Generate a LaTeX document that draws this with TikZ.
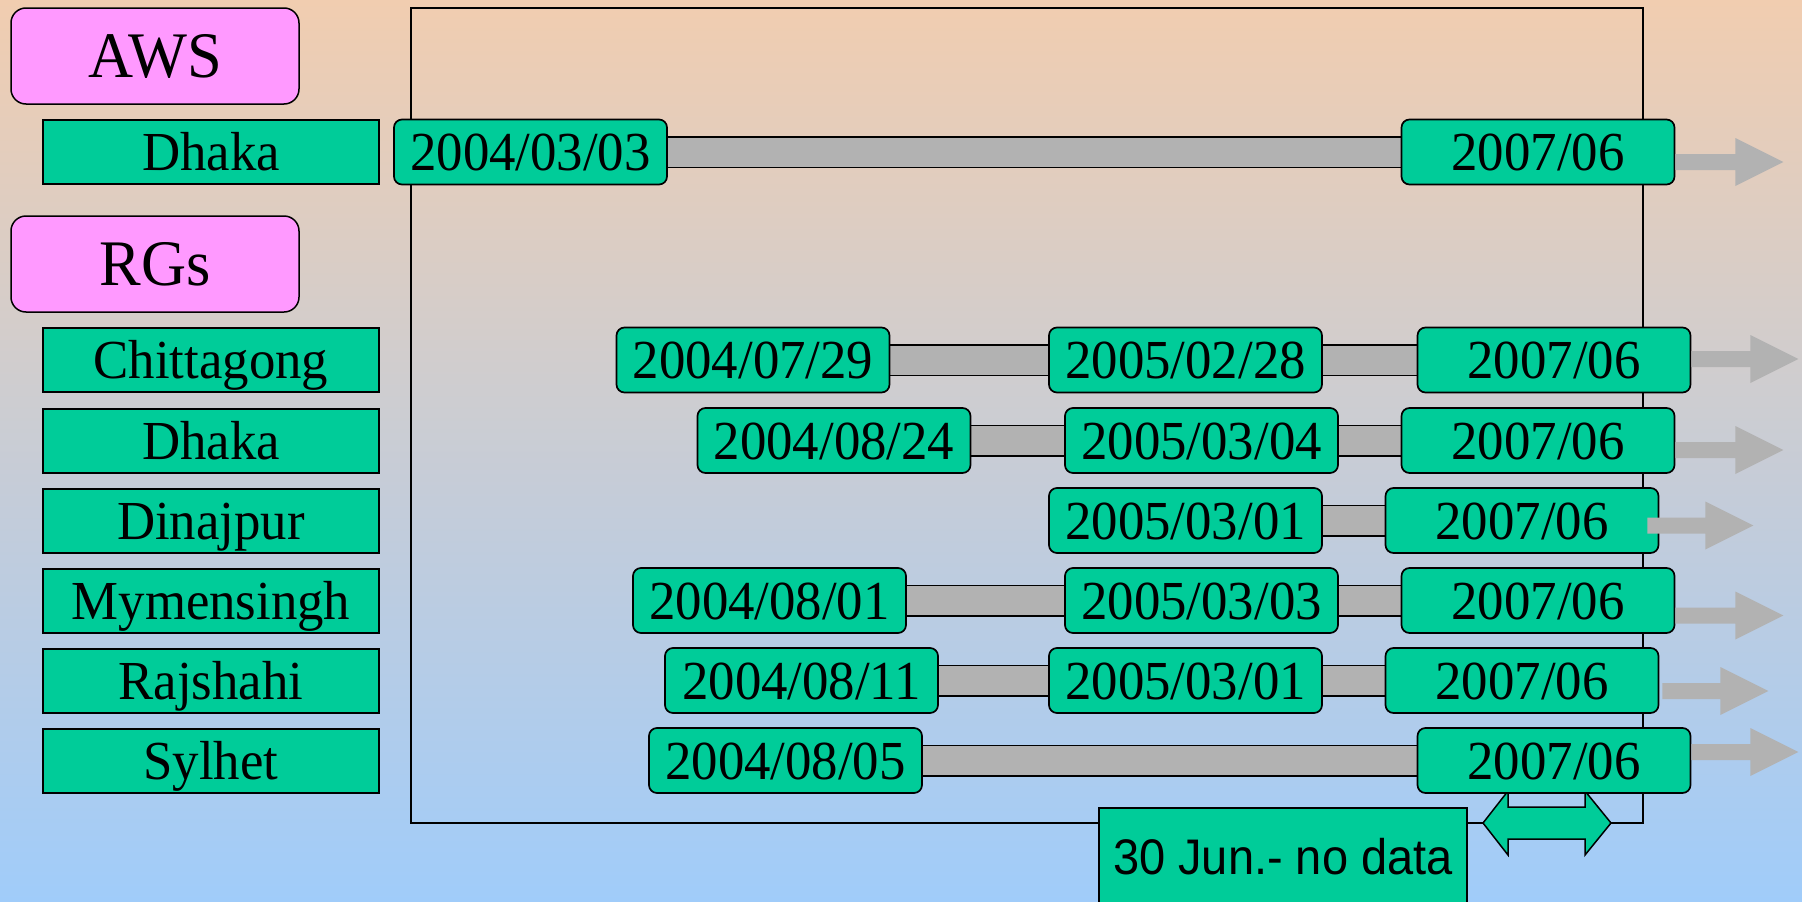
\documentclass[tikz,border=0pt]{standalone}
\usepackage{fontspec}
\setmainfont{Liberation Serif}[FakeStretch=0.96]
\newfontfamily\ndfont{Liberation Sans}[FakeStretch=0.94]
\definecolor{bgtop}{RGB}{241,205,176}
\definecolor{bgbot}{RGB}{160,204,250}
\definecolor{boxgreen}{RGB}{0,204,153}
\definecolor{boxpink}{RGB}{255,153,255}
\definecolor{bargray}{RGB}{178,178,178}
\pgfdeclarelayer{bglayer}
\pgfdeclarelayer{midlayer}
\pgfsetlayers{bglayer,midlayer,main}
\newcommand\garrow[4]{% node, dx, dy, shaft length
  \fill[bargray] ([shift={(#2,#3)}]#1.east) ++(0,-8) -- ++(#4,0) -- ++(0,-16) -- ++(48,24) -- ++(-48,24) -- ++(0,-16) -- ++(-#4,0) -- cycle;}
\begin{document}
\begin{tikzpicture}[x=1pt,y=-1pt,
  headbox/.style={draw=black, fill=boxpink, line width=1.5pt, rounded corners=15pt,
    minimum width=288pt, minimum height=96pt, inner sep=0pt,
    font=\fontsize{65}{70}\selectfont, text height=43pt, text depth=0pt},
  namebox/.style={draw=black, fill=boxgreen, line width=2pt,
    minimum width=336pt, minimum height=64pt, inner sep=0pt,
    font=\fontsize{55}{60}\selectfont, text height=37pt, text depth=0pt},
  datebox/.style={draw=black, fill=boxgreen, line width=1.7pt, rounded corners=8pt,
    minimum width=273pt, minimum height=65pt, inner sep=0pt,
    font=\fontsize{55}{60}\selectfont, text height=37pt, text depth=0pt},
  bar/.style={draw=black, line width=1.5pt, double=bargray, double distance=29pt},
  frame/.style={draw=black, line width=2pt},
  ndbox/.style={draw=black, fill=boxgreen, line width=1.5pt, inner sep=0pt,
    minimum width=368pt, font=\ndfont\fontsize{50}{52}\selectfont,
    text height=66pt, text depth=50pt}
]
\useasboundingbox (0,0) rectangle (1802,902);
\begin{pgfonlayer}{bglayer}
  \shade[top color=bgtop, bottom color=bgbot] (0,0) rectangle (1802,902);
\end{pgfonlayer}

% left column
\node[headbox] (aws) at (155,56) {AWS};
\node[namebox] (n0) at (211,152) {Dhaka};
\node[headbox] (rgs) at (155,264) {RGs};
\node[namebox] (n1) at (211,360) {Chittagong};
\node[namebox] (n2) at (211,440.5) {Dhaka};
\node[namebox] (n3) at (211,520.5) {Dinajpur};
\node[namebox] (n4) at (211,600.5) {Mymensingh};
\node[namebox] (n5) at (211,680.5) {Rajshahi};
\node[namebox] (n6) at (211,760.5) {Sylhet};

% date boxes
\node[datebox] (a1) at (530.5,152) {2004/03/03};
\node[datebox] (a3) at (1538,152) {2007/06};

\node[datebox] (c1) at (753,360) {2004/07/29};
\node[datebox] (c2) at (1185.5,360) {2005/02/28};
\node[datebox] (c3) at (1554,360) {2007/06};

\node[datebox] (d1) at (834,440.5) {2004/08/24};
\node[datebox] (d2) at (1201.5,440.5) {2005/03/04};
\node[datebox] (d3) at (1538,440.5) {2007/06};

\node[datebox] (j2) at (1185.5,520.5) {2005/03/01};
\node[datebox] (j3) at (1522,520.5) {2007/06};

\node[datebox] (m1) at (769.5,600.5) {2004/08/01};
\node[datebox] (m2) at (1201.5,600.5) {2005/03/03};
\node[datebox] (m3) at (1538,600.5) {2007/06};

\node[datebox] (r1) at (801.5,680.5) {2004/08/11};
\node[datebox] (r2) at (1185.5,680.5) {2005/03/01};
\node[datebox] (r3) at (1522,680.5) {2007/06};

\node[datebox] (s1) at (785.5,760.5) {2004/08/05};
\node[datebox] (s3) at (1554,760.5) {2007/06};

\node[ndbox, anchor=base] (nd) at (1283,874) {30 Jun.- no data};

\begin{pgfonlayer}{midlayer}
  \draw[frame] (411,8) rectangle (1643,823);
  \draw[bar] (a1.east) -- (a3.west);
  \draw[bar] (c1.east) -- (c2.west);
  \draw[bar] (c2.east) -- (c3.west);
  \draw[bar] (d1.east) -- (d2.west);
  \draw[bar] (d2.east) -- (d3.west);
  \draw[bar] (j2.east) -- (j3.west);
  \draw[bar] (m1.east) -- (m2.west);
  \draw[bar] (m2.east) -- (m3.west);
  \draw[bar] (r1.east) -- (r2.west);
  \draw[bar] (r2.east) -- (r3.west);
  \draw[bar] (s1.east) -- (s3.west);
  \draw[fill=boxgreen, line width=1.5pt, line join=miter]
    (1483,823) -- (1508,791) -- (1508,807) -- (1585,807) -- (1585,791) -- (1611,823)
    -- (1585,855) -- (1585,839) -- (1508,839) -- (1508,855) -- cycle;
\end{pgfonlayer}

% gray continuation arrows
\garrow{a3}{0}{10}{60}
\garrow{c3}{0}{-1}{59}
\garrow{d3}{0}{9.5}{60}
\garrow{j3}{-12}{5}{58}
\garrow{m3}{0}{15}{60}
\garrow{r3}{3}{10.5}{58}
\garrow{s3}{0}{-8.5}{59}
\end{tikzpicture}
\end{document}
